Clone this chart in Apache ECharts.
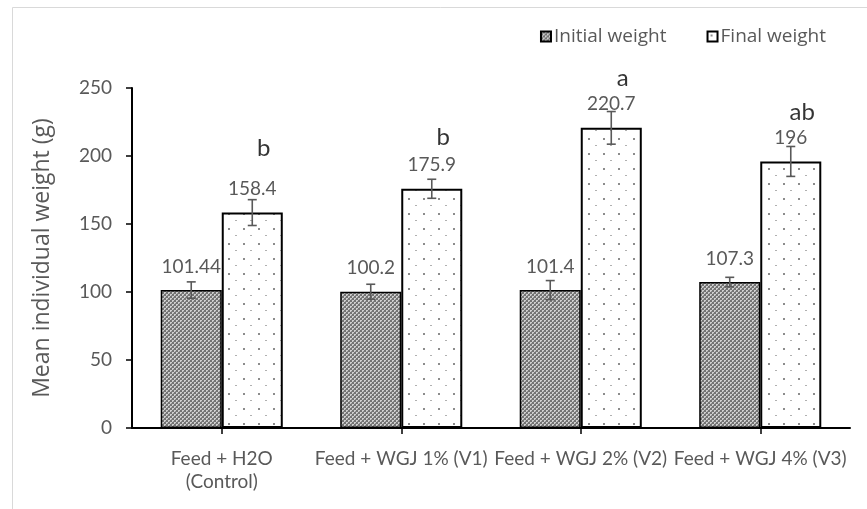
<!DOCTYPE html>
<html>
<head>
<meta charset="utf-8">
<script src="https://cdn.jsdelivr.net/npm/echarts@6/dist/echarts.min.js"></script>
<style>
html,body{margin:0;padding:0;background:#fff;}
#chart{width:867px;height:509px;}
</style>
</head>
<body>
<div id="chart"></div>
<script>
// ---- data ----
var categories = ['Feed + H2O\n(Control)', 'Feed + WGJ 1% (V1)', 'Feed + WGJ 2% (V2)', 'Feed + WGJ 4% (V3)'];
var initialWeight = [101.44, 100.2, 101.4, 107.3];
var finalWeight = [158.4, 175.9, 220.7, 196];
var initialErr = [6, 5.5, 7, 3.5];
var finalErr = [9.5, 7, 12, 11];
var letters = ['b', 'b', 'a', 'ab'];
var letterLevel = [206, 214, 257, 232];
var yTicks = [0, 50, 100, 150, 200, 250];

// ---- patterns ----
function checkerPattern() {
  var c = document.createElement('canvas');
  c.width = 4; c.height = 4;
  var g = c.getContext('2d');
  g.fillStyle = '#747474'; g.fillRect(0, 0, 4, 4);
  g.fillStyle = '#cfcfcf';
  g.fillRect(0, 0, 2, 2); g.fillRect(2, 2, 2, 2);
  g.fillStyle = '#8f8f8f';
  g.fillRect(1, 1, 1, 1); g.fillRect(3, 3, 1, 1);
  return c;
}
function dotPattern() {
  var c = document.createElement('canvas');
  c.width = 15; c.height = 15;
  var g = c.getContext('2d');
  g.fillStyle = '#ffffff'; g.fillRect(0, 0, 15, 15);
  g.fillStyle = '#8c8c8c'; g.fillRect(3, 3, 2, 2);
  g.fillStyle = '#b0b0b0'; g.fillRect(10, 10, 2, 1);
  return c;
}
var initFill = { image: checkerPattern(), repeat: 'repeat' };
var finalFill = { image: dotPattern(), repeat: 'repeat' };

var GAP = 0.32;
function errSeries(values, errs, side) {
  return {
    type: 'custom',
    z: 5,
    silent: true,
    data: values.map(function (v, i) { return [i, v, errs[i]]; }),
    renderItem: function (params, api) {
      var i = api.value(0), v = api.value(1), e = api.value(2);
      var band = api.size([1, 0])[0];
      var bw = band * (1 - GAP) / 2;
      var x = api.coord([i, v])[0] + side * bw / 2;
      var yt = api.coord([i, v + e])[1];
      var yb = api.coord([i, v - e])[1];
      var cap = 4.5;
      var st = { stroke: '#595959', lineWidth: 1.6 };
      return {
        type: 'group',
        children: [
          { type: 'line', shape: { x1: x, y1: yt, x2: x, y2: yb }, style: st },
          { type: 'line', shape: { x1: x - cap, y1: yt, x2: x + cap, y2: yt }, style: st },
          { type: 'line', shape: { x1: x - cap, y1: yb, x2: x + cap, y2: yb }, style: st }
        ]
      };
    }
  };
}

var chart = echarts.init(document.getElementById('chart'), null, { renderer: 'canvas' });
var option = {
  backgroundColor: '#ffffff',
  animation: false,
  graphic: [{
    type: 'rect', z: -1, silent: true,
    shape: { x: 12.5, y: 7.5, width: 900, height: 600 },
    style: { fill: 'none', stroke: '#d9d9d9', lineWidth: 1 }
  }],
  legend: {
    right: 36, top: 22,
    itemWidth: 10, itemHeight: 10, itemGap: 40,
    icon: 'rect',
    textStyle: { fontFamily: 'Open Sans', fontSize: 19, color: '#595959', padding: [0, 0, 0, -2] },
    data: ['Initial weight', 'Final weight']
  },
  grid: { left: 132, right: 17, top: 88, bottom: 81 },
  xAxis: {
    type: 'category',
    data: categories,
    axisLine: { lineStyle: { color: '#000', width: 2 } },
    axisTick: { show: true, alignWithLabel: true, length: 6, lineStyle: { color: '#000', width: 1.5 } },
    axisLabel: { fontFamily: 'Lato', fontSize: 19, color: '#595959', margin: 19, lineHeight: 23, interval: 0 }
  },
  yAxis: {
    type: 'value',
    min: 0, max: 250, interval: 50,
    name: 'Mean individual weight (g)',
    nameLocation: 'middle',
    nameRotate: 90,
    nameGap: 78,
    nameTextStyle: { fontFamily: 'Open Sans', fontSize: 23, color: '#595959' },
    axisLine: { show: true, lineStyle: { color: '#000', width: 2 } },
    axisTick: { show: true, length: 6, lineStyle: { color: '#000', width: 1.5 } },
    axisLabel: { fontFamily: 'Lato', fontSize: 19, color: '#595959', margin: 20,
      formatter: function (v) { return yTicks.indexOf(v) >= 0 ? String(v) : ''; } },
    splitLine: { show: false }
  },
  series: [
    {
      name: 'Initial weight', type: 'bar', barGap: '0%', barCategoryGap: (GAP * 100) + '%',
      data: initialWeight,
      itemStyle: { color: initFill, borderColor: '#000', borderWidth: 1.5 },
      label: { show: true, position: 'top', distance: 14, fontFamily: 'Lato', fontSize: 19, color: '#595959' }
    },
    {
      name: 'Final weight', type: 'bar', barGap: '0%', barCategoryGap: (GAP * 100) + '%',
      data: finalWeight,
      itemStyle: { color: finalFill, borderColor: '#000', borderWidth: 2 },
      label: { show: true, position: 'top', distance: 14, fontFamily: 'Lato', fontSize: 19, color: '#595959' }
    },
    errSeries(initialWeight, initialErr, -1),
    errSeries(finalWeight, finalErr, 1),
    {
      type: 'scatter', symbolSize: 0, silent: true, clip: false, z: 6,
      data: letterLevel.map(function (v, i) { return [i, v]; }),
      label: {
        show: true, position: 'inside', offset: [42, 0],
        fontFamily: 'Lato', fontSize: 24, color: '#000',
        formatter: function (p) { return letters[p.dataIndex]; }
      }
    }
  ]
};
chart.setOption(option);
</script>
</body>
</html>
